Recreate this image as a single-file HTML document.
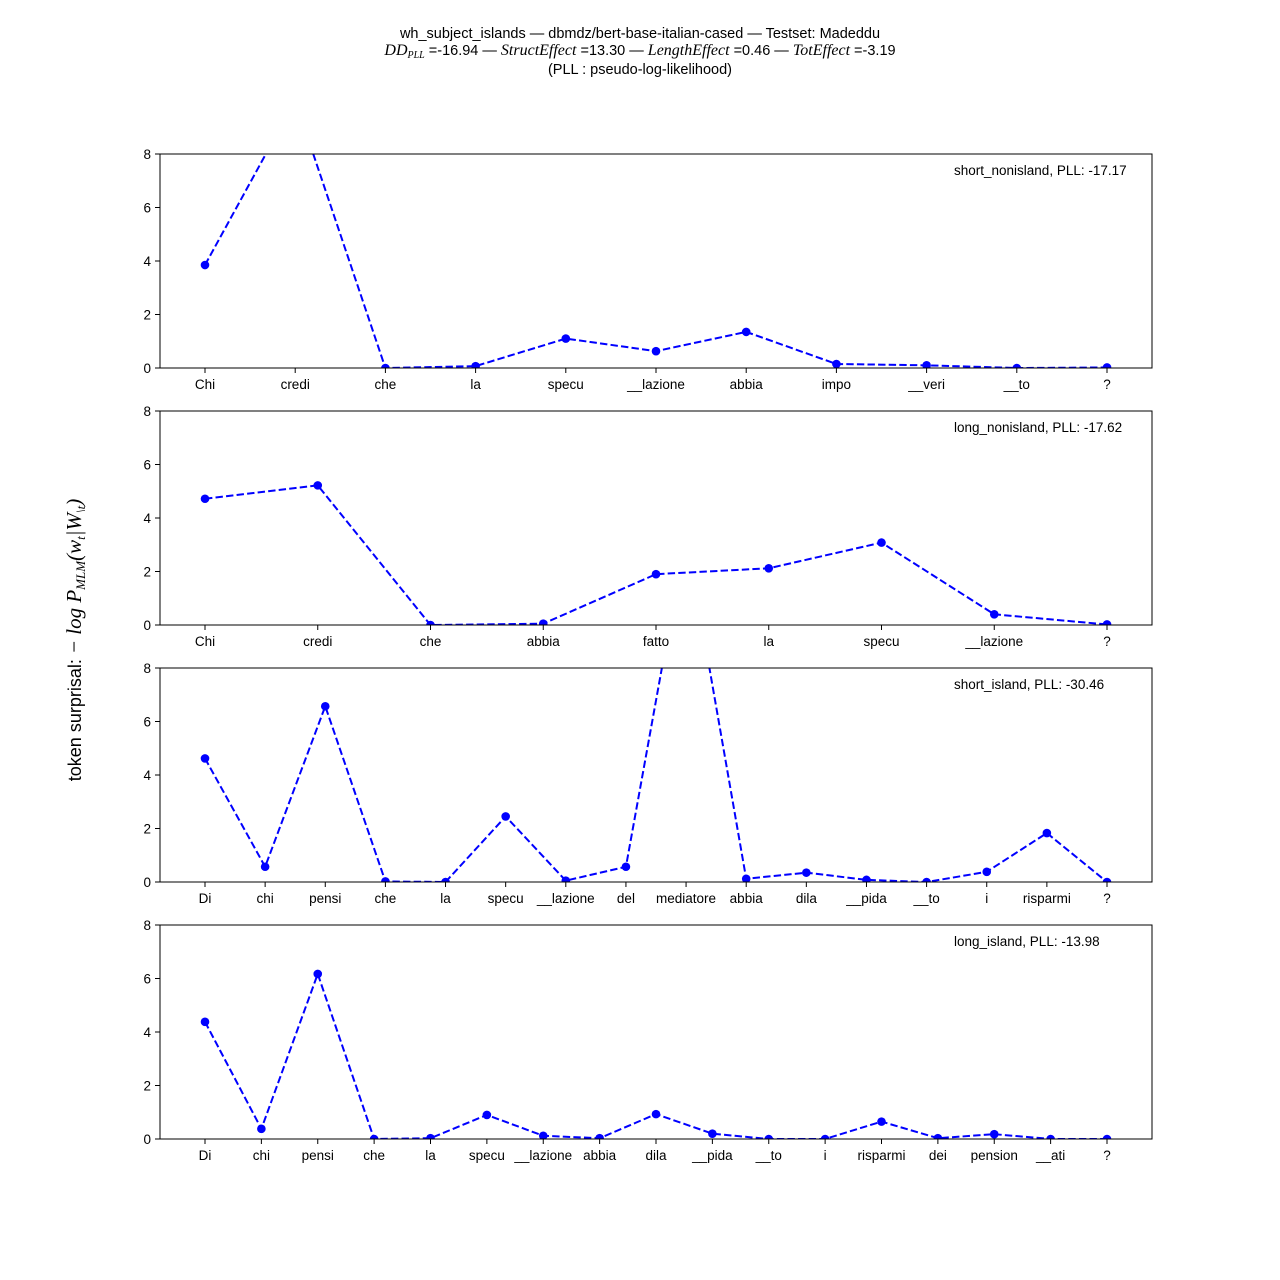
<!DOCTYPE html>
<html><head><meta charset="utf-8">
<style>
html,body{margin:0;padding:0;background:#fff;}
svg{display:block;font-family:"Liberation Sans","DejaVu Sans",sans-serif;}
</style></head>
<body>
<svg id="chart" width="1280" height="1280" viewBox="0 0 1280 1280" xmlns="http://www.w3.org/2000/svg">
<g text-anchor="middle" font-size="14.5">
<text x="640" y="38">wh_subject_islands — dbmdz/bert-base-italian-cased — Testset:  Madeddu</text>
<text x="640" y="55"><tspan font-style="italic" font-family="Liberation Serif, serif" font-size="16">DD<tspan font-size="10" dy="3">PLL</tspan></tspan><tspan dy="-3"> =-16.94 — </tspan><tspan font-style="italic" font-family="Liberation Serif, serif" font-size="16">StructEffect</tspan> =13.30 — <tspan font-style="italic" font-family="Liberation Serif, serif" font-size="16">LengthEffect</tspan> =0.46 — <tspan font-style="italic" font-family="Liberation Serif, serif" font-size="16">TotEffect</tspan> =-3.19</text>
<text x="640" y="74">(PLL : pseudo-log-likelihood)</text>
</g>
<text transform="translate(81,640) rotate(-90)" text-anchor="middle" font-size="18">token surprisal:   <tspan font-style="italic" font-family="Liberation Serif, serif" font-size="21">− log P<tspan font-size="13" dy="4">MLM</tspan><tspan dy="-4">(w</tspan><tspan font-size="13" dy="4">t</tspan><tspan dy="-4">|W</tspan><tspan font-size="13" dy="4">\t</tspan><tspan dy="-4">)</tspan></tspan></text>
<g id="panels"></g>
</svg>
<script>
const tokens1 = ["Chi","credi","che","la","specu","__lazione","abbia","impo","__veri","__to","?"];
const values1 = [3.85,10.0,0.0,0.07,1.1,0.63,1.35,0.15,0.1,0.0,0.02];
const tokens2 = ["Chi","credi","che","abbia","fatto","la","specu","__lazione","?"];
const values2 = [4.72,5.22,0.0,0.05,1.9,2.12,3.08,0.4,0.02];
const tokens3 = ["Di","chi","pensi","che","la","specu","__lazione","del","mediatore","abbia","dila","__pida","__to","i","risparmi","?"];
const values3 = [4.62,0.57,6.57,0.02,0.0,2.45,0.05,0.57,13.0,0.12,0.35,0.08,0.0,0.38,1.83,0.0];
const tokens4 = ["Di","chi","pensi","che","la","specu","__lazione","abbia","dila","__pida","__to","i","risparmi","dei","pension","__ati","?"];
const values4 = [4.38,0.38,6.17,0.0,0.03,0.9,0.12,0.03,0.93,0.2,0.0,0.0,0.65,0.03,0.18,0.0,0.0];
const labels = ["short_nonisland, PLL: -17.17","long_nonisland, PLL: -17.62","short_island, PLL: -30.46","long_island, PLL: -13.98"];
const yTicks = [0,2,4,6,8];
const tops = [154,411,668,925];
const NS="http://www.w3.org/2000/svg";
const root=document.getElementById('panels');
function mk(tag,attrs,parent){const e=document.createElementNS(NS,tag);for(const k in attrs)e.setAttribute(k,attrs[k]);parent.appendChild(e);return e;}
const X0=160,X1=1152,H=214,YMAX=8,P0=205,P1=1107;
const sets=[[tokens1,values1],[tokens2,values2],[tokens3,values3],[tokens4,values4]];
sets.forEach(([toks,vals],pi)=>{
  const top=tops[pi],bot=top+H;
  const n=toks.length;
  const xs=i=>P0+i*(P1-P0)/(n-1);
  const ys=v=>bot-v/YMAX*H;
  const g=mk('g',{},root);
  
  
  const cp=mk('clipPath',{id:'cp'+pi},g);
  mk('rect',{x:X0,y:top,width:X1-X0,height:H},cp);
  let d='';vals.forEach((v,i)=>{d+=(i?'L':'M')+xs(i).toFixed(2)+','+ys(v).toFixed(2);});
  const line=mk('path',{d:d,fill:'none',stroke:'#0000ff','stroke-width':2,'stroke-dasharray':'7.4,3.2','clip-path':'url(#cp'+pi+')'},g);
  
  
  vals.forEach((v,i)=>{
    const c=mk('circle',{cx:xs(i),cy:ys(v),r:4.3,fill:'#0000ff','clip-path':'url(#cp'+pi+')'},g);
    
    
  });
  const fr=mk('rect',{x:X0,y:top,width:X1-X0,height:H,fill:'none',stroke:'#000','stroke-width':1},g);
  
  
  yTicks.forEach(t=>{
    const y=ys(t);
    mk('line',{x1:X0-5,x2:X0,y1:y,y2:y,stroke:'#000'},g);
    const tx=mk('text',{x:X0-9,y:y+5,'text-anchor':'end','font-size':13.5},g);
    tx.textContent=t;
    
    
  });
  toks.forEach((t,i)=>{
    const x=xs(i);
    mk('line',{x1:x,x2:x,y1:bot,y2:bot+5,stroke:'#000'},g);
    const tx=mk('text',{x:x,y:bot+21,'text-anchor':'middle','font-size':13.5},g);
    tx.textContent=t;
    
    
  });
  const lb=mk('text',{x:954,y:top+21,'font-size':13.5},g);
  lb.textContent=labels[pi];
  
  
});
</script>
</body></html>
